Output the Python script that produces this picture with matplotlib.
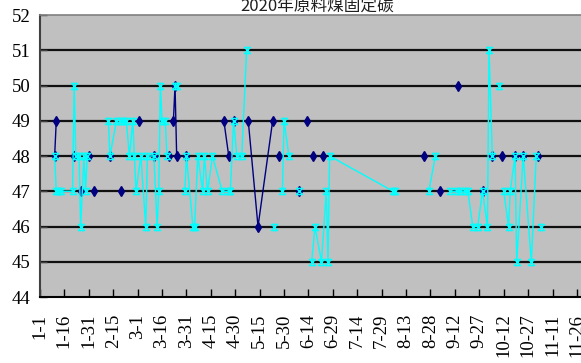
import numpy as np
import pandas as pd
import matplotlib
matplotlib.use("Agg")
import matplotlib.pyplot as plt
from matplotlib.path import Path

YEAR = 2020
title_text = "2020年原料煤固定碳"

# Sample dates (MM-DD) and fixed-carbon values; None marks a blank row (line break)
navy_dates = ["01-10", "01-11", None,
              "01-22", None, "01-26", None, "01-31", None, "02-03", None,
              "02-13", None, "02-20", None, "03-02", None, "03-11", None,
              "03-20", None, "03-23", "03-24", "03-25", None, "03-31", None,
              "04-23", "04-26", None, "04-29", None,
              "05-08", "05-14", "05-23", None, "05-27", None, "06-08", None,
              "06-13", None, "06-17", None, "06-23", None, "08-24", None,
              "09-03", None, "09-14", None, "09-29", None, "10-05", None,
              "10-11", None, "10-19", "10-24", None, "11-02"]
navy_values = [48, 49, None,
               48, None, 47, None, 48, None, 47, None,
               48, None, 47, None, 49, None, 48, None,
               48, None, 49, 50, 48, None, 48, None,
               49, 48, None, 49, None,
               49, 46, 49, None, 48, None, 47, None,
               49, None, 48, None, 48, None, 48, None,
               47, None, 50, None, 47, None, 48, None,
               48, None, 48, 48, None, 48]

cyan_dates = ["01-10", "01-11", "01-12", "01-14", "01-21", "01-22", "01-23",
              "01-25", "01-26", "01-28", "01-29", "01-30", None,
              "02-12", "02-13", "02-17", "02-19", "02-21", "02-23", "02-25",
              "02-27", "02-28", "02-29", "03-03", "03-06", "03-07", "03-11",
              "03-13", "03-14", "03-15", "03-16", "03-18", "03-19", None,
              "03-24", "03-25", None,
              "03-30", "03-31", "04-04", "04-05", "04-07", "04-10", "04-11",
              "04-13", "04-16", "04-22", "04-26", "04-27", "04-29", "05-01",
              "05-04", "05-07", None,
              "05-24", None,
              "05-29", "05-30", "06-02", None,
              "06-08", None,
              "06-16", "06-18", "06-22", "06-25", "06-26", "06-27", "08-05",
              "08-06", None,
              "08-27", "08-31", None,
              "09-09", "09-13", "09-15", "09-18", "09-20", "09-23", "09-26",
              "09-29", "10-02", "10-03", "10-05", None,
              "10-09", None,
              "10-12", "10-15", "10-16", "10-19", "10-20", "10-24", "10-29",
              "11-01", None,
              "11-04"]
cyan_values = [48, 47, 47, 47, 47, 50, 48,
               48, 46, 48, 47, 48, None,
               49, 48, 49, 49, 49, 49, 48,
               49, 48, 47, 48, 46, 48, 48,
               46, 47, 50, 49, 49, 48, None,
               50, 50, None,
               47, 48, 46, 46, 48, 47, 48,
               47, 48, 47, 47, 47, 49, 48,
               48, 51, None,
               46, None,
               47, 49, 48, None,
               47, None,
               45, 46, 45, 47, 45, 48, 47,
               47, None,
               47, 48, None,
               47, 47, 47, 47, 47, 46, 46,
               47, 46, 51, 48, None,
               50, None,
               47, 46, 47, 48, 45, 48, 45,
               48, None,
               46]

y_ticks = list(range(44, 53))
last_tick_date = "11-26"


def day_numbers(dates):
    start = pd.Timestamp(f"{YEAR}-01-01")
    return np.array([np.nan if d is None else (pd.Timestamp(f"{YEAR}-{d}") - start).days
                     for d in dates], dtype=float)


def as_float(values):
    return np.array([np.nan if v is None else v for v in values], dtype=float)


nx, ny = day_numbers(navy_dates), as_float(navy_values)
cx, cy = day_numbers(cyan_dates), as_float(cyan_values)

# Hourglass outline marker (X with top and bottom bars)
hourglass = Path([(-1, 1), (1, 1), (-1, -1), (1, -1), (-1, 1)],
                 [Path.MOVETO, Path.LINETO, Path.LINETO, Path.LINETO, Path.LINETO])

W, H = 581, 363
fig = plt.figure(figsize=(W / 100, H / 100), dpi=100)
fig.patch.set_facecolor("white")

px_per_day = 1.627
x_max = 366
ax = fig.add_axes([40 / W, 66 / H, x_max * px_per_day / W, 282 / H])
ax.set_facecolor("#C0C0C0")

ax.plot(nx, ny, color="#000080", lw=1.0, marker="d", ms=5.5,
        mfc="#000080", mec="#000080", zorder=3)
ax.plot(cx, cy, color="#00FFFF", lw=1.0, marker=hourglass, ms=4.5,
        mfc="none", mec="#00FFFF", mew=1.0, zorder=4)

ax.set_xlim(0, x_max)
ax.set_ylim(44, 52)

tick_dates = pd.date_range(f"{YEAR}-01-01", f"{YEAR}-{last_tick_date}", freq="15D")
tick_pos = [(d - tick_dates[0]).days for d in tick_dates]
ax.set_xticks(tick_pos)
ax.set_xticklabels([f"{d.month}-{d.day}" for d in tick_dates],
                   rotation=90, family="Liberation Serif", fontsize=13.5)
ax.set_yticks(y_ticks)
ax.set_yticklabels([str(v) for v in y_ticks], family="Liberation Serif", fontsize=13.5)

ax.tick_params(axis="x", direction="in", length=6, width=1, color="black", pad=12)
ax.tick_params(axis="y", direction="in", length=5, width=1, color="#404040", pad=7)

ax.yaxis.grid(True, color="#101010", lw=1.6)
grid_lines = ax.get_ygridlines()
grid_lines[0].set_visible(False)
grid_lines[-1].set_visible(False)
ax.set_axisbelow(True)

ax.spines["left"].set_color("#404040")
ax.spines["left"].set_linewidth(1.5)
ax.spines["bottom"].set_color("black")
ax.spines["bottom"].set_linewidth(1.5)
ax.spines["top"].set_color("#808080")
ax.spines["top"].set_linewidth(1.2)
ax.spines["right"].set_visible(False)

fig.text(317 / W, 1 - 6 / H, title_text, ha="center", va="center",
         fontsize=12, family=["Noto Sans CJK SC", "DejaVu Sans"], color="#202020")

fig.savefig("out.png", dpi=100)
